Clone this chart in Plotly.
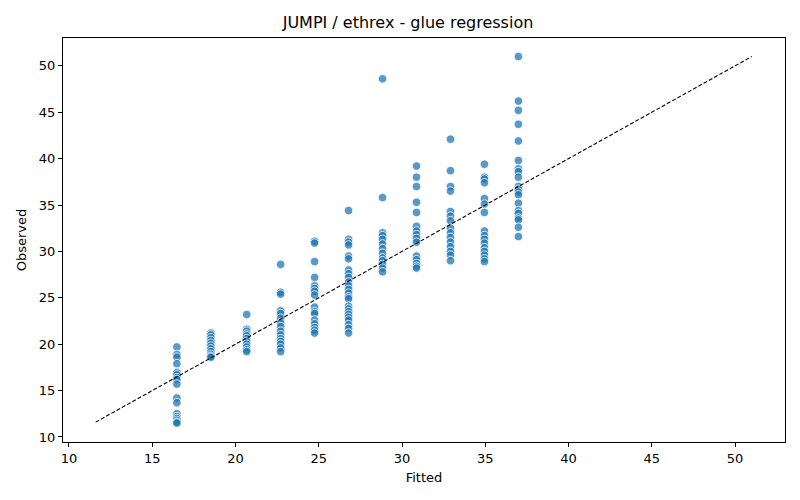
import plotly.graph_objects as go

# fitted level for each vertical column of points
FITTED_LEVELS = [16.48, 18.52, 20.67, 22.71, 24.75, 26.79, 28.83, 30.87, 32.91, 34.95, 36.99]

# observed values, one list per fitted level
OBSERVED = [
    [19.7, 18.9, 18.6, 17.9, 17.0, 16.9, 16.7, 16.4, 16.2, 15.7, 14.2, 13.7, 12.5, 12.2, 12.0, 11.8, 11.6, 11.5],
    [21.2, 21.0, 20.7, 20.4, 20.1, 19.8, 19.5, 19.2, 18.9, 18.7, 18.6],
    [23.2, 21.6, 21.4, 21.1, 20.9, 20.6, 20.3, 20.0, 19.7, 19.4, 19.2],
    [28.6, 25.6, 25.4, 23.6, 23.3, 22.8, 22.3, 21.9, 21.4, 21.0, 20.6, 20.3, 20.0, 19.6, 19.2],
    [31.1, 30.9, 28.9, 27.2, 26.3, 26.0, 25.7, 25.3, 24.0, 23.5, 23.3, 22.6, 22.2, 21.8, 21.5, 21.2],
    [34.4, 31.3, 31.0, 30.7, 29.5, 29.2, 28.0, 27.6, 27.2, 26.7, 26.3, 25.9, 25.5, 25.1, 24.9,
     24.1, 23.8, 23.5, 23.2, 22.9, 22.6, 22.1, 21.7, 21.2],
    [48.6, 35.8, 32.0, 31.7, 31.3, 30.8, 30.3, 29.8, 29.3, 29.0, 28.6, 28.2, 27.8],
    [39.2, 38.0, 37.0, 35.3, 34.2, 32.7, 32.2, 31.8, 31.4, 31.0, 29.5, 29.1, 28.7, 28.4, 28.2],
    [42.1, 38.7, 37.0, 36.5, 34.3, 33.8, 33.3, 32.5, 32.0, 31.5, 31.0, 30.5, 30.0, 29.6, 29.0],
    [39.4, 38.0, 37.8, 37.4, 35.7, 35.1, 34.2, 32.2, 31.7, 31.3, 30.9, 30.4, 30.0, 29.6, 29.2, 28.9],
    [51.0, 46.2, 45.2, 43.7, 41.9, 39.8, 38.9, 38.6, 38.0, 37.0, 36.7, 36.4, 36.1, 35.2, 34.4,
     34.1, 33.6, 33.4, 32.6, 31.6],
]

REF_LINE = [11.6, 51.0]

fitted = []
observed = []
for level, vals in zip(FITTED_LEVELS, OBSERVED):
    fitted += [level] * len(vals)
    observed += vals

fig = go.Figure()
fig.add_trace(go.Scatter(
    x=fitted, y=observed, mode="markers",
    marker=dict(size=8.5, color="rgba(31,119,180,0.75)", line=dict(color="white", width=0.8)),
    showlegend=False,
))
fig.add_trace(go.Scatter(
    x=REF_LINE, y=REF_LINE, mode="lines",
    line=dict(color="black", width=1.1, dash="4px,2px"),
    showlegend=False,
))

axis_style = dict(
    showgrid=False, zeroline=False, showline=True, linecolor="black", linewidth=1,
    mirror=True, ticks="outside", ticklen=4, tickcolor="black", automargin=False,
    tickfont=dict(size=13, color="black"), dtick=5,
)
fig.update_xaxes(range=[9.64, 53.0], title=dict(text="Fitted", font=dict(size=13), standoff=8), **axis_style)
fig.update_yaxes(range=[9.46, 53.0], title=dict(text="Observed", font=dict(size=13), standoff=9), **axis_style)

# page body adds ~8px offset, so margins are shifted to compensate
fig.update_layout(
    width=800, height=500,
    paper_bgcolor="white", plot_bgcolor="white",
    font=dict(family="DejaVu Sans", color="black"),
    title=dict(text="JUMPI / ethrex - glue regression", x=0.5, xanchor="center",
               y=0.972, yanchor="middle", font=dict(size=16), automargin=False),
    margin=dict(l=55, r=23, t=30, b=66),
)

fig.write_html("out.html")
